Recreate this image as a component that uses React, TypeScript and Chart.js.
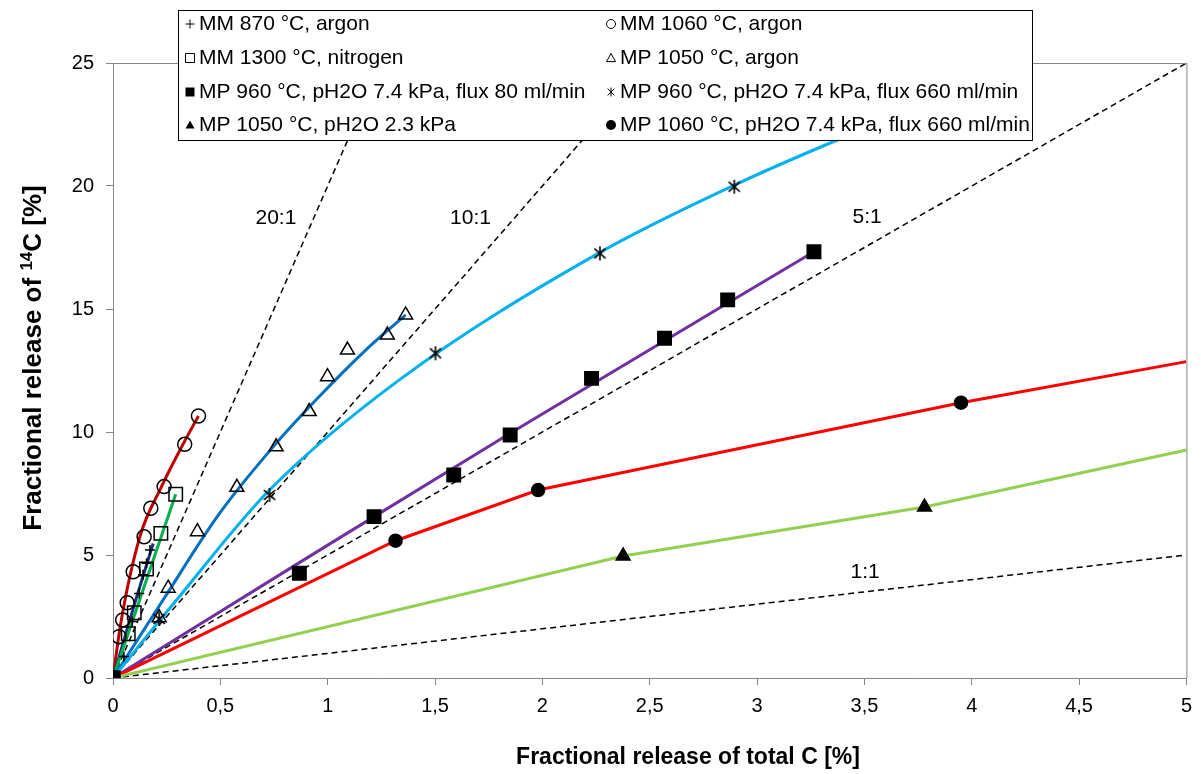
import React, { useEffect, useRef } from 'react';
import { Chart, registerables } from 'chart.js';

Chart.register(...registerables);

// ---------- axes ----------
const xTickLabels = ['0', '0,5', '1', '1,5', '2', '2,5', '3', '3,5', '4', '4,5', '5'];
const yTickLabels = ['0', '5', '10', '15', '20', '25'];
const xTitle = 'Fractional release of total C [%]';
const yTitleParts = ['Fractional release of ', '14', 'C [%]'];

// ---------- measured points ----------
const mm870X = [0, 0.051, 0.09, 0.122, 0.14, 0.156, 0.172];
const mm870Y = [0, 0.87, 2.3, 3.44, 4.2, 4.66, 5.2];
const mm870FitX = [0, 0.1, 0.187];
const mm870FitY = [0, 3.0, 5.47];

const mm1060X = [0, 0.028, 0.045, 0.066, 0.094, 0.145, 0.176, 0.238, 0.334, 0.398];
const mm1060Y = [0, 1.68, 2.36, 3.06, 4.32, 5.74, 6.9, 7.78, 9.5, 10.65];
const mm1060FitX = [0, 0.036, 0.125, 0.226, 0.326, 0.398];
const mm1060FitY = [0, 2.22, 5.74, 7.78, 9.5, 10.65];

const mm1300X = [0, 0.071, 0.099, 0.156, 0.223, 0.292];
const mm1300Y = [0, 1.8, 2.65, 4.43, 5.88, 7.47];
const mm1300FitX = [0, 0.292];
const mm1300FitY = [0, 7.47];

const mp1050ArX = [0, 0.215, 0.257, 0.393, 0.577, 0.76, 0.914, 0.999, 1.092, 1.278, 1.363];
const mp1050ArY = [0, 2.45, 3.65, 5.95, 7.75, 9.4, 10.83, 12.25, 13.33, 13.94, 14.76];
const mp1050ArFitX = [0, 0.233, 0.497, 0.76, 0.945, 1.177, 1.363];
const mp1050ArFitY = [0, 3.17, 6.7, 9.54, 11.3, 13.33, 14.76];

const mp960f80X = [0, 0.868, 1.216, 1.587, 1.85, 2.229, 2.569, 2.863, 3.265];
const mp960f80Y = [0, 4.26, 6.56, 8.25, 9.88, 12.18, 13.81, 15.37, 17.33];
const mp960f80FitX = [0, 0.87, 1.85, 3.265];
const mp960f80FitY = [0, 4.7, 9.95, 17.33];

const mp960f660X = [0, 0.215, 0.729, 1.502, 2.268, 2.894];
const mp960f660Y = [0, 2.4, 7.44, 13.2, 17.26, 19.97];
const mp960f660FitX = [0, 0.296, 0.729, 1.332, 2.26, 2.878, 3.374, 3.9];
const mp960f660FitY = [0, 3.17, 7.64, 12.11, 17.26, 19.97, 21.87, 23.7];

const mp1050phX = [0, 2.376, 3.78];
const mp1050phY = [0, 4.96, 6.95];
const mp1050phLineX = [0, 2.376, 3.78, 5];
const mp1050phLineY = [0, 4.96, 6.95, 9.27];

const mp1060X = [0, 1.316, 1.98, 3.95];
const mp1060Y = [0, 5.58, 7.64, 11.19];
const mp1060LineX = [0, 1.316, 1.98, 3.95, 5];
const mp1060LineY = [0, 5.58, 7.64, 11.19, 12.86];

// ---------- reference ratio lines ----------
const ratioLabels = ['1:1', '5:1', '10:1', '20:1'];
const ratioLineX = [[0, 5], [0, 5], [0, 2.5], [0, 1.25]];
const ratioLineY = [[0, 5], [0, 25], [0, 25], [0, 25]];
const ratioLabelAnchor = [[3.503, 4.31], [3.513, 18.74], [1.665, 18.7], [0.759, 18.7]];

const legendLabels = [
  'MM 870 °C, argon',
  'MM 1060 °C, argon',
  'MM 1300 °C, nitrogen',
  'MP 1050 °C, argon',
  'MP 960 °C, pH2O 7.4 kPa, flux 80 ml/min',
  'MP 960 °C, pH2O 7.4 kPa, flux 660 ml/min',
  'MP 1050 °C, pH2O 2.3 kPa',
  'MP 1060 °C, pH2O 7.4 kPa, flux 660 ml/min',
];
const legendMarkers = ['plus', 'circleOpen', 'squareOpen', 'triangleOpen', 'squareFilled', 'asterisk', 'triangleFilled', 'circleFilled'];

const FONT = '"Liberation Sans", Arial, sans-serif';
const zip = (xs: number[], ys: number[]) => xs.map((x, i) => ({ x, y: ys[i] }));

function makeAsterisk(size: number) {
  const c = document.createElement('canvas');
  c.width = size;
  c.height = size;
  const g = c.getContext('2d')!;
  g.strokeStyle = '#000';
  g.lineWidth = 1.6;
  const m = size / 2;
  const r = size / 2 - 1;
  g.beginPath();
  g.moveTo(m - r * 0.8, m - r * 0.7);
  g.lineTo(m + r * 0.8, m + r * 0.7);
  g.moveTo(m + r * 0.8, m - r * 0.7);
  g.lineTo(m - r * 0.8, m + r * 0.7);
  g.moveTo(m, m - r);
  g.lineTo(m, m + r);
  g.stroke();
  return c;
}

function drawMarker(ctx: CanvasRenderingContext2D, kind: string, x: number, y: number, s: number) {
  ctx.save();
  ctx.strokeStyle = '#000';
  ctx.fillStyle = '#000';
  ctx.lineWidth = 1;
  const h = s / 2;
  ctx.beginPath();
  if (kind === 'plus') {
    ctx.moveTo(x - h, y); ctx.lineTo(x + h, y);
    ctx.moveTo(x, y - h); ctx.lineTo(x, y + h);
    ctx.stroke();
  } else if (kind === 'circleOpen' || kind === 'circleFilled') {
    ctx.arc(x, y, h, 0, Math.PI * 2);
    if (kind === 'circleFilled') ctx.fill(); else ctx.stroke();
  } else if (kind === 'squareOpen' || kind === 'squareFilled') {
    ctx.rect(x - h, y - h, s, s);
    if (kind === 'squareFilled') ctx.fill(); else ctx.stroke();
  } else if (kind === 'triangleOpen' || kind === 'triangleFilled') {
    ctx.moveTo(x, y - h);
    ctx.lineTo(x + h, y + h * 0.8);
    ctx.lineTo(x - h, y + h * 0.8);
    ctx.closePath();
    if (kind === 'triangleFilled') ctx.fill(); else ctx.stroke();
  } else if (kind === 'asterisk') {
    ctx.moveTo(x - h * 0.75, y - h * 0.75); ctx.lineTo(x + h * 0.75, y + h * 0.75);
    ctx.moveTo(x + h * 0.75, y - h * 0.75); ctx.lineTo(x - h * 0.75, y + h * 0.75);
    ctx.moveTo(x, y - h); ctx.lineTo(x, y + h);
    ctx.stroke();
  }
  ctx.restore();
}

const overlayPlugin = {
  id: 'overlay',
  afterDatasetsDraw(chart: any) {
    const { ctx, chartArea, scales } = chart;
    ctx.save();
    // plot frame
    ctx.strokeStyle = '#868686';
    ctx.lineWidth = 1;
    ctx.beginPath();
    ctx.moveTo(chartArea.left, chartArea.top + 0.5);
    ctx.lineTo(chartArea.right + 0.5, chartArea.top + 0.5);
    ctx.lineTo(chartArea.right + 0.5, chartArea.bottom);
    ctx.stroke();
    // ratio labels
    ctx.fillStyle = '#000';
    ctx.font = `21px ${FONT}`;
    ctx.textAlign = 'center';
    ctx.textBaseline = 'middle';
    ratioLabels.forEach((t, i) => {
      const [ax, ay] = ratioLabelAnchor[i];
      ctx.fillText(t, scales.x.getPixelForValue(ax), scales.y.getPixelForValue(ay));
    });
    ctx.restore();
  },
  afterDraw(chart: any) {
    const { ctx } = chart;
    ctx.save();
    // legend box
    const bx = 178, by = 10, bw = 854, bh = 130;
    ctx.fillStyle = '#fff';
    ctx.fillRect(bx, by, bw, bh);
    ctx.strokeStyle = '#000';
    ctx.lineWidth = 1;
    ctx.strokeRect(bx + 0.5, by + 0.5, bw, bh);
    ctx.save();
    ctx.beginPath();
    ctx.rect(bx + 1, by + 1, bw - 1, bh - 1);
    ctx.clip();
    ctx.font = `21px ${FONT}`;
    ctx.fillStyle = '#000';
    ctx.textAlign = 'left';
    ctx.textBaseline = 'middle';
    const rowY = [24, 58, 92, 125];
    const colX = [190, 611];
    legendLabels.forEach((t, i) => {
      const col = i % 2;
      const row = Math.floor(i / 2);
      drawMarker(ctx, legendMarkers[i], colX[col], rowY[row], legendMarkers[i] === 'circleFilled' ? 10 : 9);
      ctx.fillText(t, colX[col] + 9, rowY[row]);
    });
    ctx.restore();

    // axis titles
    ctx.fillStyle = '#000';
    ctx.font = `bold 23px ${FONT}`;
    ctx.textAlign = 'center';
    ctx.textBaseline = 'middle';
    ctx.fillText(xTitle, 688, 758);

    const big = `bold 26px ${FONT}`;
    const small = `bold 17px ${FONT}`;
    ctx.font = big;
    const w1 = ctx.measureText(yTitleParts[0]).width;
    const w3 = ctx.measureText(yTitleParts[2]).width;
    ctx.font = small;
    const w2 = ctx.measureText(yTitleParts[1]).width;
    const total = w1 + w2 + w3;
    ctx.translate(34, 358);
    ctx.rotate(-Math.PI / 2);
    ctx.textAlign = 'left';
    ctx.textBaseline = 'middle';
    let cx = -total / 2;
    ctx.font = big;
    ctx.fillText(yTitleParts[0], cx, 0);
    cx += w1;
    ctx.font = small;
    ctx.fillText(yTitleParts[1], cx, -7);
    cx += w2;
    ctx.font = big;
    ctx.fillText(yTitleParts[2], cx, 0);
    ctx.restore();
  },
};

export default function App() {
  const ref = useRef<HTMLCanvasElement | null>(null);

  useEffect(() => {
    if (!ref.current) return;
    const asterisk = makeAsterisk(16);

    const fitLine = (xs: number[], ys: number[], color: string, monotone = true) => ({
      type: 'line' as const,
      data: zip(xs, ys),
      borderColor: color,
      borderWidth: 3,
      pointRadius: 0,
      showLine: true,
      cubicInterpolationMode: monotone ? ('monotone' as const) : ('default' as const),
      tension: 0,
      order: 2,
    });
    const markers = (xs: number[], ys: number[], style: any, radius: number, filled: boolean) => ({
      type: 'scatter' as const,
      data: zip(xs, ys),
      showLine: false,
      pointStyle: style,
      pointRadius: radius,
      pointBorderColor: '#000',
      pointBackgroundColor: filled ? '#000' : 'rgba(0,0,0,0)',
      pointBorderWidth: 1.5,
      order: 0,
    });
    const ratioSets = ratioLabels.map((_, i) => ({
      type: 'line' as const,
      data: zip(ratioLineX[i], ratioLineY[i]),
      borderColor: '#000',
      borderWidth: 1.5,
      borderDash: [6, 4],
      pointRadius: 0,
      showLine: true,
      order: 3,
    }));

    const chart = new Chart(ref.current, {
      type: 'scatter',
      data: {
        datasets: [
          ...ratioSets,
          fitLine(mp1050phLineX, mp1050phLineY, '#92d050', false),
          fitLine(mp1060LineX, mp1060LineY, '#ff0000', false),
          fitLine(mp960f80FitX, mp960f80FitY, '#7030a0'),
          fitLine(mp960f660FitX, mp960f660FitY, '#00b0f0'),
          fitLine(mp1050ArFitX, mp1050ArFitY, '#0070c0'),
          fitLine(mm1300FitX, mm1300FitY, '#00b050', false),
          fitLine(mm870FitX, mm870FitY, '#1c2f7a'),
          fitLine(mm1060FitX, mm1060FitY, '#c00000'),
          markers(mp1050phX, mp1050phY, 'triangle', 8, true),
          markers(mp1060X, mp1060Y, 'circle', 6.5, true),
          markers(mp960f80X, mp960f80Y, 'rect', 9.5, true),
          markers(mp960f660X, mp960f660Y, asterisk, 8, false),
          markers(mp1050ArX, mp1050ArY, 'triangle', 8, false),
          markers(mm1300X, mm1300Y, 'rect', 9.5, false),
          markers(mm870X, mm870Y, 'cross', 5, false),
          markers(mm1060X, mm1060Y, 'circle', 7, false),
        ] as any,
      },
      options: {
        animation: false,
        responsive: false,
        devicePixelRatio: 1,
        layout: { autoPadding: false, padding: { left: 0, top: 63, right: 10, bottom: 0 } },
        plugins: { legend: { display: false }, tooltip: { enabled: false } },
        scales: {
          x: {
            type: 'linear',
            min: 0,
            max: 5,
            afterFit: (s: any) => { s.height = 96; },
            border: { color: '#868686', width: 1 },
            grid: { display: true, drawOnChartArea: false, drawTicks: true, tickLength: 7, color: '#868686' },
            ticks: {
              stepSize: 0.5,
              padding: 9,
              color: '#000',
              font: { family: FONT, size: 20 },
              callback: (_v: any, i: number) => xTickLabels[i] ?? '',
              maxRotation: 0,
            },
          },
          y: {
            type: 'linear',
            min: 0,
            max: 25,
            afterFit: (s: any) => { s.width = 113; },
            border: { color: '#868686', width: 1 },
            grid: { display: true, drawOnChartArea: false, drawTicks: true, tickLength: 7, color: '#868686' },
            ticks: {
              stepSize: 5,
              padding: 12,
              color: '#000',
              font: { family: FONT, size: 20 },
              callback: (_v: any, i: number) => yTickLabels[i] ?? '',
            },
          },
        },
      } as any,
      plugins: [overlayPlugin],
    });
    return () => chart.destroy();
  }, []);

  return (
    <div style={{ position: 'absolute', left: 0, top: 0, width: 1201, height: 774, background: '#fff' }}>
      <canvas ref={ref} width={1201} height={774} style={{ width: 1201, height: 774, display: 'block' }} />
    </div>
  );
}
